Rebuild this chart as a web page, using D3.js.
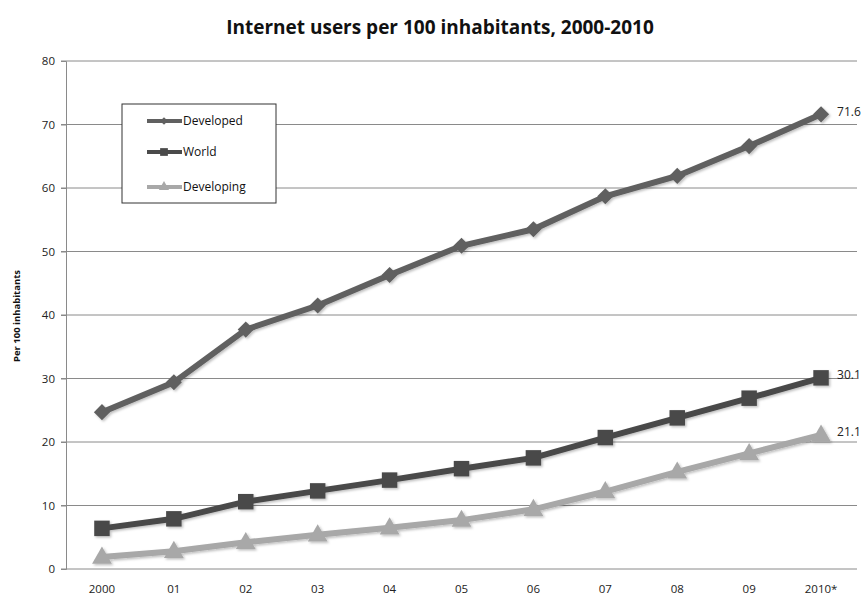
<!DOCTYPE html>
<html>
<head>
<meta charset="utf-8">
<script src="https://cdn.jsdelivr.net/npm/d3@7"></script>
<style>
  body { margin: 0; background: #fff; }
  text { font-family: "Open Sans", "Liberation Sans", sans-serif; }
</style>
</head>
<body>
<div id="chart"></div>
<script>
// data
var years = ["2000", "01", "02", "03", "04", "05", "06", "07", "08", "09", "2010*"];
var developed = [24.7, 29.4, 37.7, 41.5, 46.3, 50.9, 53.5, 58.7, 61.9, 66.6, 71.6];
var world = [6.4, 7.9, 10.6, 12.3, 14.0, 15.8, 17.5, 20.7, 23.8, 26.9, 30.1];
var developing = [1.9, 2.8, 4.2, 5.4, 6.5, 7.7, 9.4, 12.2, 15.3, 18.2, 21.1];
var yTicks = [0, 10, 20, 30, 40, 50, 60, 70, 80];

var series = [
  {name: "Developed", values: developed, color: "#606060", shape: "diamond"},
  {name: "World", values: world, color: "#4a4a4a", shape: "square"},
  {name: "Developing", values: developing, color: "#a8a8a8", shape: "triangle"}
];

var W = 866, H = 601;
var margin = {top: 61, right: 9, bottom: 32, left: 66},
    width = W - margin.left - margin.right,
    height = H - margin.top - margin.bottom;

var svg = d3.select("#chart").append("svg")
    .attr("width", W)
    .attr("height", H);

// soft shadow like the original
var defs = svg.append("defs");
var f = defs.append("filter").attr("id", "shadow")
    .attr("x", "-20%").attr("y", "-20%").attr("width", "140%").attr("height", "140%");
f.append("feDropShadow").attr("dx", 1.5).attr("dy", 1.5).attr("stdDeviation", 1.2)
    .attr("flood-color", "#000").attr("flood-opacity", 0.25);

svg.append("text")
    .attr("x", 440)
    .attr("y", 34)
    .attr("text-anchor", "middle")
    .style("font-size", "19px")
    .style("font-weight", "bold")
    .attr("fill", "#111")
    .text("Internet users per 100 inhabitants,  2000-2010");

var g = svg.append("g")
    .attr("transform", "translate(" + margin.left + "," + margin.top + ")");

var x = d3.scaleBand()
    .domain(years)
    .range([0, width]);

var y = d3.scaleLinear()
    .domain([0, 80])
    .range([height, 0]);

// gridlines
g.append("g")
  .selectAll("line")
  .data(yTicks)
  .enter()
  .append("line")
    .attr("x1", -5)
    .attr("x2", width)
    .attr("y1", function(d) { return y(d); })
    .attr("y2", function(d) { return y(d); })
    .attr("stroke", "#8a8a8a")
    .attr("stroke-width", 1);

// y axis
var yAxis = g.append("g")
    .call(d3.axisLeft(y).tickValues(yTicks).tickSize(5).tickPadding(6));
yAxis.select(".domain").attr("stroke", "#8a8a8a");
yAxis.selectAll(".tick line").attr("stroke", "#8a8a8a");
yAxis.selectAll("text").style("font-size", "11.5px").attr("fill", "#222");

// x axis
var xAxis = g.append("g")
    .attr("transform", "translate(0," + height + ")")
    .call(d3.axisBottom(x).tickSize(0).tickPadding(16));
xAxis.select(".domain").remove();
xAxis.selectAll("text").style("font-size", "11.5px").attr("fill", "#222");

svg.append("text")
    .attr("transform", "translate(20,316) rotate(-90)")
    .attr("text-anchor", "middle")
    .style("font-size", "9.5px")
    .style("font-weight", "bold")
    .attr("fill", "#111")
    .text("Per 100 inhabitants");

var line = d3.line()
    .x(function(d, i) { return x(years[i]) + x.bandwidth() / 2; })
    .y(function(d) { return y(d); });

// diamond = square turned 45deg, same width and height like Excel markers
function marker(sel, shape, size) {
  var sym = shape === "triangle" ? d3.symbolTriangle : d3.symbolSquare;
  return sel.attr("d", d3.symbol().type(sym).size(size));
}
function rot(shape) { return shape === "diamond" ? " rotate(45)" : ""; }
var sizes = {diamond: 130, square: 240, triangle: 170};

series.forEach(function(s) {
  var sg = g.append("g").attr("filter", "url(#shadow)");
  sg.append("path")
    .datum(s.values)
    .attr("fill", "none")
    .attr("stroke", s.color)
    .attr("stroke-width", 6)
    .attr("d", line);
  sg.selectAll("path.pt")
    .data(s.values)
    .enter()
    .append("path")
      .attr("class", "pt")
      .call(marker, s.shape, sizes[s.shape])
      .attr("transform", function(d, i) {
        return "translate(" + (x(years[i]) + x.bandwidth() / 2) + "," + (y(d) + (s.shape === "triangle" ? 1 : 0)) + ")" + rot(s.shape);
      })
      .attr("fill", s.color);
  var last = s.values[s.values.length - 1];
  g.append("text")
    .attr("x", x(years[years.length - 1]) + x.bandwidth() / 2 + 16)
    .attr("y", y(last))
    .attr("dy", "0.1em")
    .style("font-size", "12px")
    .attr("fill", "#222")
    .text(last);
});

// legend
var legend = svg.append("g").attr("transform", "translate(122,104)");
legend.append("rect")
    .attr("width", 154)
    .attr("height", 99)
    .attr("fill", "#fff")
    .attr("stroke", "#333")
    .attr("stroke-width", 1);
var legSizes = {diamond: 30, square: 60, triangle: 45};
series.forEach(function(s, i) {
  var ly = [17, 48, 83][i];
  var lg = legend.append("g").attr("transform", "translate(0," + ly + ")");
  lg.append("line")
    .attr("x1", 25).attr("x2", 60)
    .attr("stroke", s.color)
    .attr("stroke-width", 4);
  lg.append("path")
    .call(marker, s.shape, legSizes[s.shape])
    .attr("transform", "translate(42,0)" + rot(s.shape))
    .attr("fill", s.color);
  lg.append("text")
    .attr("x", 61)
    .attr("dy", "0.35em")
    .style("font-size", "12px")
    .attr("fill", "#111")
    .text(s.name);
});
</script>
</body>
</html>
